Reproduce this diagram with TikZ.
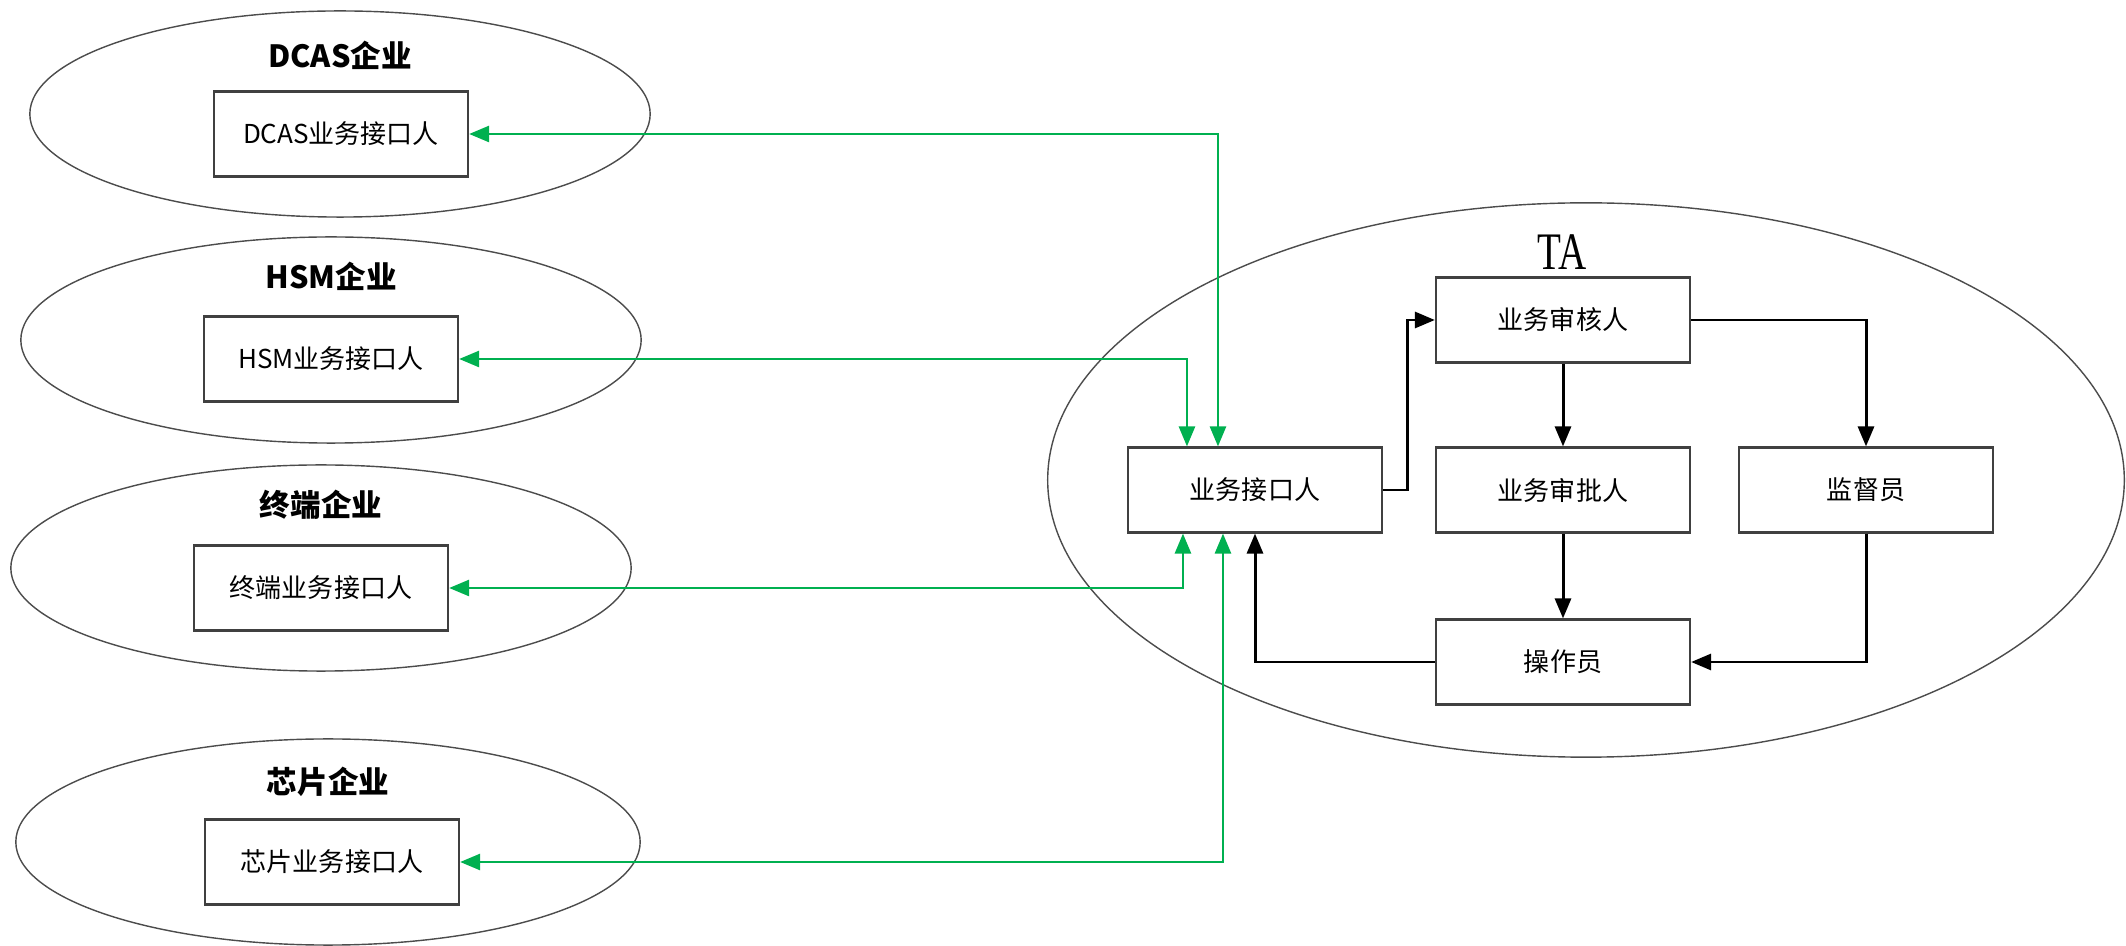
\documentclass[tikz,border=0pt]{standalone}
\usepackage{graphicx}
\usepackage{fontspec}
\setmainfont{Noto Sans CJK SC}
\newfontfamily\tafont{Liberation Serif}
\usetikzlibrary{shapes.geometric,arrows.meta}
\definecolor{lgreen}{RGB}{0,176,80}
\begin{document}
\begin{tikzpicture}[x=0.01cm,y=-0.01cm,
 org/.style={ellipse, draw=black!70, line width=0.4pt, minimum width=6.2cm, minimum height=2.06cm, inner sep=0pt},
 rolebox/.style={rectangle, draw=black!75, fill=white, line width=0.6pt, minimum width=2.54cm, minimum height=0.85cm, inner sep=0pt, font=\fontsize{7.4}{8}\selectfont},
 orgtitle/.style={font=\fontsize{8.7}{10}\selectfont\bfseries},
 gline/.style={draw=lgreen, line width=0.75pt, {Triangle[length=2mm,width=1.6mm]}-{Triangle[length=2mm,width=1.6mm]}},
 bline/.style={draw=black, line width=0.85pt, -{Triangle[length=2mm,width=1.6mm]}}]
\useasboundingbox (0,0) rectangle (2126,946);

% organisations
\node[org] (e1) at (340,114) {};
\node[org] (e2) at (331,340) {};
\node[org] (e3) at (321,568) {};
\node[org, minimum width=6.24cm] (e4) at (328,842) {};
\node[ellipse, draw=black!70, line width=0.4pt, minimum width=10.76cm, minimum height=5.54cm, inner sep=0pt] (ta) at (1586,480) {};

\node[orgtitle] (t1) at (340,55) {DCAS企业};
\node[orgtitle] (t2) at (331,276) {HSM企业};
\node[orgtitle] (t3) at (321,505) {终端企业};
\node[orgtitle] (t4) at (328,782) {芯片企业};
\node[font=\tafont\fontsize{15}{16}\selectfont] (talabel) at (1562,252) {\scalebox{0.74}[1]{TA}};

% boxes
\node[rolebox] (b1) at (341,134) {DCAS业务接口人};
\node[rolebox] (b2) at (331,359) {HSM业务接口人};
\node[rolebox] (b3) at (321,588) {终端业务接口人};
\node[rolebox] (b4) at (332,862) {芯片业务接口人};

\node[rolebox] (A) at (1255,490) {业务接口人};
\node[rolebox] (R) at (1563,320) {业务审核人};
\node[rolebox] (P) at (1563,490) {业务审批人};
\node[rolebox] (S) at (1866,490) {监督员};
\node[rolebox] (O) at (1563,662) {操作员};

% green connectors
\draw[gline] (b1.east) -| ([xshift=-0.37cm]A.north);
\draw[gline] (b2.east) -| ([xshift=-0.68cm]A.north);
\draw[gline] (b3.east) -| ([xshift=-0.72cm]A.south);
\draw[gline] (b4.east) -| ([xshift=-0.32cm]A.south);

% black connectors
\draw[bline] (A.east) -- ++(24,0) |- (R.west);
\draw[bline] (R.south) -- (P.north);
\draw[bline] (R.east) -| (S.north);
\draw[bline] (P.south) -- (O.north);
\draw[bline] (S.south) |- (O.east);
\draw[bline] (O.west) -| (A.south);
\end{tikzpicture}
\end{document}
